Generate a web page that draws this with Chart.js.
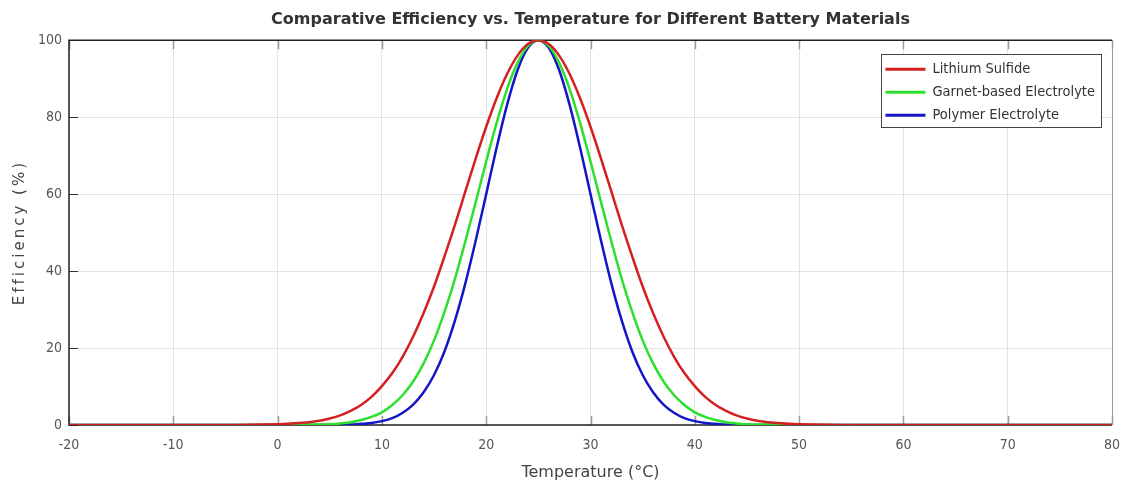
<!DOCTYPE html>
<html>
<head>
<meta charset="utf-8">
<script src="https://cdn.jsdelivr.net/npm/chart.js@4.4.0/dist/chart.umd.min.js"></script>
<style>
  html, body { margin: 0; padding: 0; background: #fff; }
  #wrap { width: 1126px; height: 486px; }
</style>
</head>
<body>
<div id="wrap"><canvas id="effChart" width="1126" height="486"></canvas></div>
<script>
//==================================================Data
var temps = [-20, -15, -10, -5,
    0, 1, 2, 3, 4, 5, 6, 7, 8, 9, 10, 11, 12, 13, 14, 15, 16, 17, 18, 19, 20, 21, 22, 23, 24, 25,
    26, 27, 28, 29, 30, 31, 32, 33, 34, 35, 36, 37, 38, 39, 40, 41, 42, 43, 44, 45, 46, 47, 48, 49, 50,
    55, 60, 65, 70, 75, 80];

var lithiumSulfide = [0, 0, 0, 0,
    0.2, 0.3, 0.5, 0.7, 1.1, 1.7, 2.5, 3.7, 5.2, 7.3, 10.1, 13.5, 17.8, 23.0, 29.1, 36.0, 43.8, 52.0, 60.7, 69.3, 77.5, 84.9, 91.2, 96.0, 99.0, 100,
    99.0, 96.0, 91.2, 84.9, 77.5, 69.3, 60.7, 52.0, 43.8, 36.0, 29.1, 23.0, 17.8, 13.5, 10.1, 7.3, 5.2, 3.7, 2.5, 1.7, 1.1, 0.7, 0.5, 0.3, 0.2,
    0, 0, 0, 0, 0, 0];

var garnetElectrolyte = [0, 0, 0, 0,
    0, 0, 0, 0.1, 0.1, 0.2, 0.4, 0.7, 1.3, 2.1, 3.3, 5.2, 7.8, 11.3, 16.0, 22.0, 29.4, 38.0, 47.7, 58.0, 68.5, 78.5, 87.3, 94.1, 98.5, 100,
    98.5, 94.1, 87.3, 78.5, 68.5, 58.0, 47.7, 38.0, 29.4, 22.0, 16.0, 11.3, 7.8, 5.2, 3.3, 2.1, 1.3, 0.7, 0.4, 0.2, 0.1, 0.1, 0, 0, 0,
    0, 0, 0, 0, 0, 0];

var polymerElectrolyte = [0, 0, 0, 0,
    0, 0, 0, 0, 0, 0, 0.1, 0.1, 0.3, 0.5, 1.0, 1.8, 3.2, 5.3, 8.5, 13.0, 19.1, 27.1, 36.8, 48.0, 60.0, 72.1, 83.2, 92.2, 98.0, 100,
    98.0, 92.2, 83.2, 72.1, 60.0, 48.0, 36.8, 27.1, 19.1, 13.0, 8.5, 5.3, 3.2, 1.8, 1.0, 0.5, 0.3, 0.1, 0.1, 0, 0, 0, 0, 0, 0,
    0, 0, 0, 0, 0, 0];

var seriesNames = ['Lithium Sulfide', 'Garnet-based Electrolyte', 'Polymer Electrolyte'];
var seriesColors = ['#d42020', '#2de02d', '#1515c8'];
var xTicks = [-20, -10, 0, 10, 20, 30, 40, 50, 60, 70, 80];
var yTicks = [0, 20, 40, 60, 80, 100];

var FONT = '"DejaVu Sans Condensed", "DejaVu Sans", sans-serif';

function toPoints(values) {
    return temps.map(function(t, i) {
        return { x: t, y: values[i] };
    });
}

//==================================================Frame, inner ticks, legend box, y title
var framePlugin = {
    id: 'frame',
    beforeDatasetsDraw: function(chart) {
        var c = chart.ctx, a = chart.chartArea;
        var xs = chart.scales.x, ys = chart.scales.y;
        c.save();
        // inward tick marks
        c.strokeStyle = '#9a9a9a';
        c.lineWidth = 1.5;
        xTicks.forEach(function(v) {
            var px = Math.round(xs.getPixelForValue(v)) + 0.5;
            c.beginPath();
            c.moveTo(px, a.bottom); c.lineTo(px, a.bottom - 9);
            c.moveTo(px, a.top); c.lineTo(px, a.top + 9);
            c.stroke();
        });
        c.strokeStyle = '#333';
        c.lineWidth = 1;
        yTicks.forEach(function(v) {
            var py = Math.round(ys.getPixelForValue(v)) + 0.5;
            c.beginPath();
            c.moveTo(a.left, py); c.lineTo(a.left + 9, py);
            c.stroke();
        });
        // box
        c.lineWidth = 1.5;
        c.strokeStyle = '#222';
        c.beginPath();
        c.moveTo(a.right, a.top); c.lineTo(a.left, a.top);
        c.lineTo(a.left, a.bottom); c.lineTo(a.right, a.bottom);
        c.stroke();
        c.strokeStyle = '#9a9a9a';
        c.lineWidth = 1;
        c.beginPath();
        c.moveTo(a.right + 0.5, a.top); c.lineTo(a.right + 0.5, a.bottom);
        c.stroke();
        c.restore();
    },
    afterDraw: function(chart) {
        var c = chart.ctx, a = chart.chartArea;
        c.save();
        // y axis title, letter-spaced
        c.font = '15px "DejaVu Sans", sans-serif';
        c.fillStyle = '#444';
        if ('letterSpacing' in c) c.letterSpacing = '3px';
        c.translate(20, (a.top + a.bottom) / 2);
        c.rotate(-Math.PI / 2);
        c.textAlign = 'center';
        c.textBaseline = 'middle';
        c.fillText('Efficiency (%)', 0, 0);
        c.restore();

        // legend
        c.save();
        c.font = '14.5px ' + FONT;
        var ds = chart.data.datasets;
        var maxW = 0;
        ds.forEach(function(d) { maxW = Math.max(maxW, c.measureText(d.label).width); });
        var boxW = 4 + 40 + 7 + maxW + 6;
        var boxH = 73;
        var bx = a.right - 11 - boxW, by = a.top + 14;
        c.fillStyle = '#fff';
        c.fillRect(bx, by, boxW, boxH);
        c.strokeStyle = '#444';
        c.lineWidth = 1;
        c.strokeRect(Math.round(bx) + 0.5, Math.round(by) + 0.5, Math.round(boxW), boxH);
        c.textBaseline = 'middle';
        ds.forEach(function(d, i) {
            var ry = by + 15 + i * 23;
            c.strokeStyle = d.borderColor;
            c.lineWidth = 3;
            c.beginPath();
            c.moveTo(bx + 4, ry); c.lineTo(bx + 44, ry);
            c.stroke();
            c.fillStyle = '#333';
            c.fillText(d.label, bx + 51, ry);
        });
        c.restore();
    }
};

//==================================================Chart
var ctx = document.getElementById('effChart');
var effChart = new Chart(ctx, {
    type: 'line',
    data: {
        datasets: [
            { label: seriesNames[0], data: toPoints(lithiumSulfide), borderColor: seriesColors[0] },
            { label: seriesNames[1], data: toPoints(garnetElectrolyte), borderColor: seriesColors[1] },
            { label: seriesNames[2], data: toPoints(polymerElectrolyte), borderColor: seriesColors[2] }
        ]
    },
    options: {
        responsive: false,
        animation: false,
        layout: { padding: { left: 0, right: 14, top: 0, bottom: 0 } },
        elements: {
            point: { radius: 0 },
            line: { borderWidth: 2.5, cubicInterpolationMode: 'monotone', fill: false }
        },
        plugins: {
            legend: { display: false },
            tooltip: { enabled: false },
            title: {
                display: true,
                fullSize: false, // centre over the plot area, not the canvas
                text: 'Comparative Efficiency vs. Temperature for Different Battery Materials',
                color: '#333',
                font: { family: '"DejaVu Sans", sans-serif', size: 16, weight: 'bold' },
                padding: { top: 10, bottom: 11 }
            }
        },
        scales: {
            x: {
                type: 'linear',
                min: -20,
                max: 80,
                afterBuildTicks: function(s) { s.ticks = xTicks.map(function(v) { return { value: v }; }); },
                ticks: { color: '#555', font: { family: FONT, size: 14 }, padding: 12, maxRotation: 0 },
                grid: { color: '#e3e3e3', drawTicks: false },
                border: { display: false },
                title: {
                    display: true,
                    text: 'Temperature (°C)',
                    color: '#444',
                    font: { family: '"DejaVu Sans", sans-serif', size: 16 },
                    padding: { top: 0, bottom: 4 }
                },
                afterFit: function(s) { s.height = 61; s.paddingRight = 0; s.paddingLeft = 0; }
            },
            y: {
                min: 0,
                max: 100,
                afterBuildTicks: function(s) { s.ticks = yTicks.map(function(v) { return { value: v }; }); },
                ticks: { color: '#555', font: { family: FONT, size: 14 }, padding: 7 },
                grid: { color: '#e3e3e3', drawTicks: false },
                border: { display: false },
                afterFit: function(s) { s.width = 69; }
            }
        }
    },
    plugins: [framePlugin]
});
</script>
</body>
</html>
